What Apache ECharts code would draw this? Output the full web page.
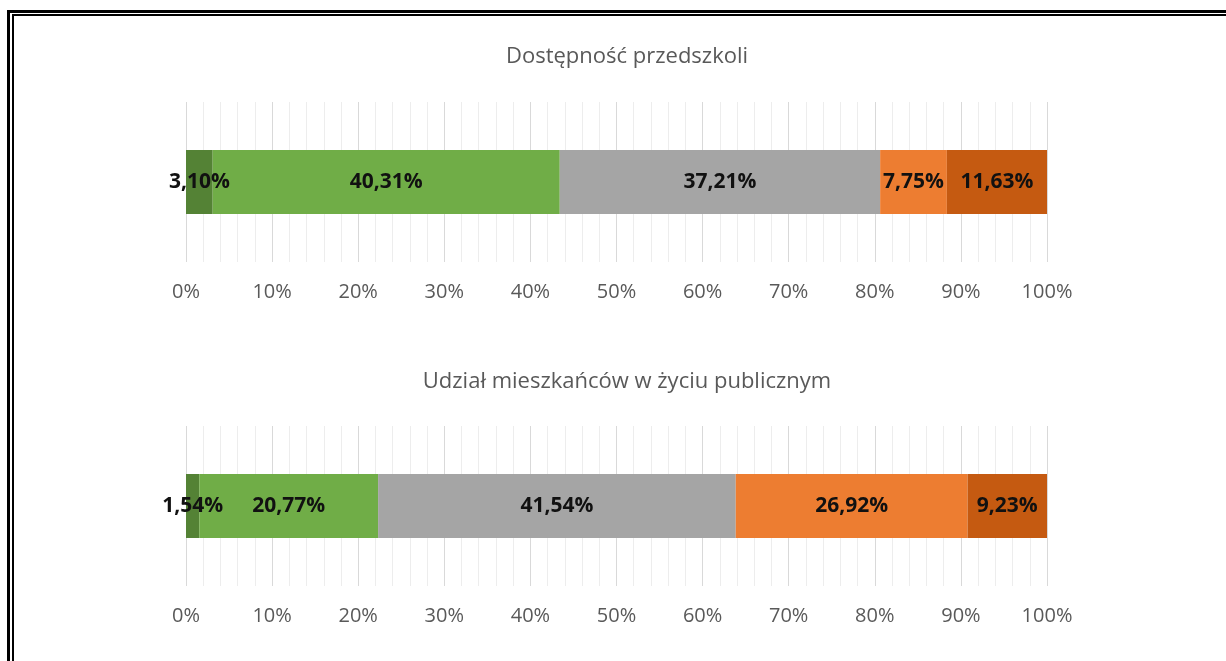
<!DOCTYPE html>
<html>
<head>
<meta charset="utf-8">
<title>Dostępność przedszkoli</title>
<script src="https://cdn.jsdelivr.net/npm/echarts@6/dist/echarts.min.js"></script>
<style>
    html, body { margin: 0; padding: 0; background: #fff; overflow: hidden; }
    #wykres { position: absolute; left: 0; top: 0; width: 1226px; height: 661px; }
    .ramka { position: absolute; border-style: solid; border-color: #000; border-right: none; border-bottom: none; pointer-events: none; }
    .zew { left: 7px; top: 10px; width: 1230px; height: 660px; border-left-width: 3px; border-top-width: 3px; }
    .wew { left: 12px; top: 14px; width: 1230px; height: 660px; border-left-width: 2px; border-top-width: 2px; }
</style>
</head>
<body>
<div id="wykres"></div>
<div class="ramka zew"></div>
<div class="ramka wew"></div>
<script>
// dane z wykresu
var tytuly = ['Dostępność przedszkoli', 'Udział mieszkańców w życiu publicznym'];
var przedszkola = [3.10, 40.31, 37.21, 7.75, 11.63];
var zyciePubliczne = [1.54, 20.77, 41.54, 26.92, 9.23];
var kolory = ['#548235', '#70AD47', '#A5A5A5', '#ED7D31', '#C55A11'];
var ticki = [0, 10, 20, 30, 40, 50, 60, 70, 80, 90, 100];

var dane = [przedszkola, zyciePubliczne];
var gorne = [102, 426]; // gora siatki dla kazdego wykresu
var tytulTop = [41, 366];

var myChart = echarts.init(document.getElementById('wykres'));

var grids = [], xAxes = [], yAxes = [], series = [], titles = [];

for (let k = 0; k < dane.length; k++) {
    titles.push({
        text: tytuly[k],
        left: 622,
        top: tytulTop[k],
        textAlign: 'center',
        textStyle: {
            fontFamily: 'Open Sans',
            fontSize: 22,
            fontWeight: 'normal',
            color: '#595959'
        }
    });
    grids.push({ left: 186, right: 179, top: gorne[k], height: 160 });
    xAxes.push({
        type: 'value',
        gridIndex: k,
        min: ticki[0],
        max: ticki[ticki.length - 1],
        interval: 10,
        axisLine: { show: false },
        axisTick: { show: false },
        minorTick: { show: false, splitNumber: 5 },
        splitLine: { show: true, lineStyle: { color: '#D9D9D9', width: 1 } },
        minorSplitLine: { show: true, lineStyle: { color: '#EDEDED', width: 1 } },
        axisLabel: {
            margin: 20,
            fontFamily: 'Open Sans',
            fontSize: 20,
            color: '#595959',
            formatter: function(v) { return v + '%'; }
        }
    });
    yAxes.push({
        type: 'category',
        gridIndex: k,
        data: [tytuly[k]],
        show: false
    });
    for (let i = 0; i < dane[k].length; i++) {
        series.push({
            type: 'bar',
            xAxisIndex: k,
            yAxisIndex: k,
            stack: 'razem' + k,
            barWidth: 64,
            data: [dane[k][i]],
            itemStyle: { color: kolory[i] },
            label: {
                show: true,
                position: 'inside',
                fontFamily: 'Open Sans',
                fontSize: 21,
                fontWeight: 'bold',
                color: '#111',
                formatter: function(p) { return p.value.toFixed(2).replace('.', ',') + '%'; }
            }
        });
    }
}

myChart.setOption({
    animation: false,
    title: titles,
    grid: grids,
    xAxis: xAxes,
    yAxis: yAxes,
    series: series
});
</script>
</body>
</html>
